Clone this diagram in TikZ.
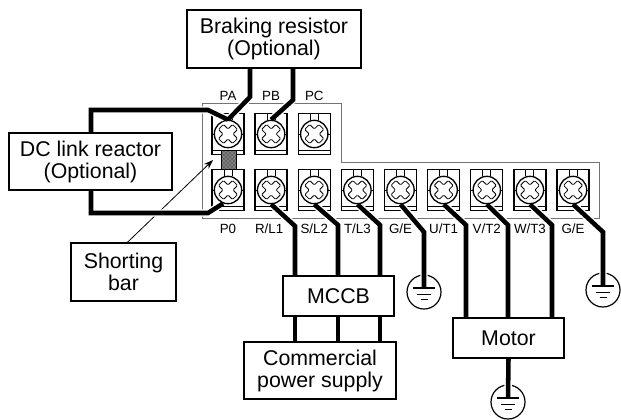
\documentclass[tikz,border=0pt]{standalone}
\usepackage{fontspec}
\setmainfont{Liberation Sans}
\usetikzlibrary{arrows.meta,patterns,positioning}

\tikzset{
 box/.style={draw,line width=1.1pt,fill=white,inner sep=0pt,align=center,font=\fontsize{16}{16.5}\selectfont},
 termlabel/.style={inner sep=0pt,font=\fontsize{10}{11}\selectfont},
 wire/.style={draw,line width=3.4pt},
 halowire/.style={wire,preaction={draw=white,line width=5.6pt,shorten >=3pt,shorten <=3pt}},
 screw/.style={circle,draw,line width=1pt,fill=white,minimum size=20.5pt,inner sep=0pt,
  path picture={
   \draw[line width=.6pt,rounded corners=.8pt,shift={(path picture bounding box.center)}]
    (0,-4.95) -- (4.6,-9.55) -- (9.55,-4.6) -- (4.95,0) -- (9.55,4.6) -- (4.6,9.55) -- (0,4.95)
    -- (-4.6,9.55) -- (-9.55,4.6) -- (-4.95,0) -- (-9.55,-4.6) -- (-4.6,-9.55) -- cycle;
  }},
 gnd/.style={circle,draw,line width=.9pt,minimum size=25.5pt,inner sep=0pt,
  path picture={
   \begin{scope}[shift={(path picture bounding box.center)}]
    \draw[line width=1.1pt] (-11,-4) -- (11,-4);
    \draw[line width=.7pt] (-7,2) -- (7,2);
    \draw[line width=.7pt] (-3.5,7) -- (3.5,7);
   \end{scope}
  }},
}

\begin{document}
\begin{tikzpicture}[x=.75pt,y=-.75pt,node distance=32.35pt,on grid]
 \useasboundingbox (0,0) rectangle (621,419);

 % outline of the terminal block
 \draw[black!55,line width=.7pt] (202,103) -- (341,103) -- (341,162) -- (599,162) -- (599,218) -- (202,218) -- cycle;

 \node[screw] (PA) at (228,134) {};
 \node[screw] (PB) [right=of PA] {};
 \node[screw] (PC) [right=of PB] {};
 \node[screw] (P0) at (228,190) {};
 \node[screw] (RL1) [right=of P0] {};
 \node[screw] (SL2) [right=of RL1] {};
 \node[screw] (TL3) [right=of SL2] {};
 \node[screw] (GE1) [right=of TL3] {};
 \node[screw] (UT1) [right=of GE1] {};
 \node[screw] (VT2) [right=of UT1] {};
 \node[screw] (WT3) [right=of VT2] {};
 \node[screw] (GE2) [right=of WT3] {};

 \foreach \n in {PA,PB,PC,P0,RL1,SL2,TL3,GE1,UT1,VT2,WT3,GE2} {
  \begin{scope}[shift={(\n)}]
   \draw[line width=1pt] (-16,-20.5) rectangle (16,20.5);
   \draw[line width=.7pt] (-16,16.5) -- (16,16.5) (-4,-14) -- (-4,-20.5) (4,-14) -- (4,-20.5)
    (-16,0) -- (-14,0) (14,0) -- (16,0);
  \end{scope}
 }

 \foreach \n/\lab in {PA/PA,PB/PB,PC/PC}
  \node[termlabel] (\n-lab) [above=28.5pt of \n] {\lab};
 \foreach \n/\lab in {P0/P0,SL2/S\slash L2,TL3/T\slash L3,GE1/G\slash E,UT1/U\slash T1,VT2/V\slash T2,WT3/W\slash T3,GE2/G\slash E}
  \node[termlabel] (\n-lab) [below=29.25pt of \n] {\lab};
 \node[termlabel] (RL1-lab) [below=29.25pt of RL1,xshift=-1.5pt] {R\slash L1};

 \node[box,minimum width=130.5pt,minimum height=43.5pt] (brake) at (274,39) {Braking resistor\\(Optional)};
 \node[box,minimum width=122pt,minimum height=42.75pt] (reactor) at (90.5,161.5) {DC link reactor\\(Optional)};
 \node[box,minimum width=78.75pt,minimum height=43.5pt] (shorting) at (123.5,272) {Shorting\\bar};
 \node[box,minimum width=83.25pt,minimum height=30pt] (mccb) at (338.5,296) {MCCB};
 \node[box,minimum width=114pt,minimum height=42.75pt] (supply) at (320,370.5) {Commercial\\power supply};
 \node[box,minimum width=83.25pt,minimum height=30pt] (motor) at (508.5,338) {Motor};
 \node[gnd] (gndA) at (424,292) {};
 \node[gnd] (gndB) at (603,290) {};
 \node[gnd] (gndC) at (508,402) {};

 \node[draw,line width=.5pt,preaction={fill=black!50},pattern=crosshatch dots,minimum width=11pt,minimum height=14.5pt,inner sep=0pt] (bar) at (228.5,160) {};
 \coordinate (bartip) at (213,160);
 \draw[-{Stealth[length=7pt,width=5pt]},line width=.6pt] ([xshift=3pt]shorting.north) -- (bartip);

 % wires on the upper row
 \coordinate (PA-b) at (250,97);
 \coordinate (PB-b) at (293,100);
 \coordinate (top-b) at (91,110);
 \coordinate (top-c) at (208,110);
 \coordinate (low-b) at (91,213);
 \coordinate (low-c) at (208,213);
 \draw[halowire] (brake.south -| PA-b) -- (PA-b) -- (PA.north);
 \draw[halowire] (brake.south -| PB-b) -- (PB-b) -- (PB.north);
 \draw[halowire] (reactor.north -| top-b) -- (top-b) -- (top-c) -- (PA.north);
 \draw[halowire] (reactor.south -| low-b) -- (low-b) -- (low-c) -- (P0.250);

 % wires on the lower row
 \foreach \n/\bx/\by in {RL1/295/226,SL2/338/225,TL3/380/225,GE1/424/232,UT1/466/225,VT2/508/225,WT3/552/225,GE2/603/232}
  \coordinate (\n-b) at (\bx,\by);
 \foreach \n in {RL1,SL2,TL3} {
  \draw[halowire] (\n.south) -- (\n-b) -- (\n-b |- mccb.north);
  \draw[wire] (\n-b |- mccb.south) -- (\n-b |- supply.north);
 }
 \foreach \n in {UT1,VT2,WT3}
  \draw[halowire] (\n.south) -- (\n-b) -- (\n-b |- motor.north);
 \draw[halowire] (GE1.south) -- (GE1-b) -- ([yshift=3pt]gndA.center);
 \draw[halowire] (GE2.south) -- (GE2-b) -- ([yshift=3pt]gndB.center);
 \draw[halowire] (motor.south) -- ([yshift=3pt]gndC.center);
\end{tikzpicture}
\end{document}
